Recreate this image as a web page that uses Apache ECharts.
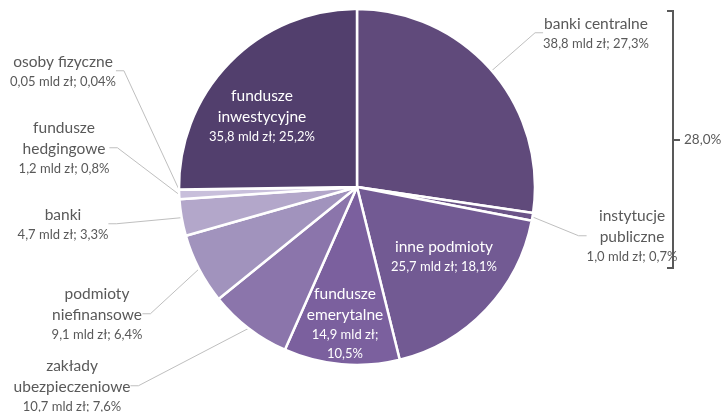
<!DOCTYPE html>
<html><head><meta charset="utf-8">
<script src="https://cdn.jsdelivr.net/npm/echarts@6/dist/echarts.min.js"></script>
<style>html,body{margin:0;padding:0;background:#fff}#c{width:724px;height:412px}</style>
</head><body><div id="c"></div>
<script>
// ---- data ----
const categories = ['banki centralne','instytucje publiczne','inne podmioty','fundusze emerytalne','zakłady ubezpieczeniowe','podmioty niefinansowe','banki','fundusze hedgingowe','osoby fizyczne','fundusze inwestycyjne'];
const valuesMld = [38.8, 1.0, 25.7, 14.9, 10.7, 9.1, 4.7, 1.2, 0.05, 35.8];
const valueText = ['38,8','1,0','25,7','14,9','10,7','9,1','4,7','1,2','0,05','35,8'];
const percentText = ['27,3%','0,7%','18,1%','10,5%','7,6%','6,4%','3,3%','0,8%','0,04%','25,2%'];
const bracketLabel = '28,0%';

// ---- presentation ----
const nameBreaks = {
  'instytucje publiczne':'instytucje\npubliczne',
  'fundusze emerytalne':'fundusze\nemerytalne',
  'zakłady ubezpieczeniowe':'zakłady\nubezpieczeniowe',
  'podmioty niefinansowe':'podmioty\nniefinansowe',
  'fundusze hedgingowe':'fundusze\nhedgingowe',
  'fundusze inwestycyjne':'fundusze\ninwestycyjne'
};
const colors = ['#604a7b','#6b5488','#725a93','#7b609e','#8b75ab','#a193bd','#b3a7ca','#c8bfdb','#d8d0e6','#523f6d'];
const inside = [false,false,true,true,false,false,false,false,false,true];
const labelPos = [[596,33],[632,236],[444,256],[345,323],[72,386],[97,314],[63,224],[64,148],[63,71],[262,116]];

const font = 'Lato, "Open Sans", sans-serif';
const chart = echarts.init(document.getElementById('c'));

const data = categories.map((c,i)=>{
  const nm = nameBreaks[c] || c;
  let val = valueText[i] + ' mld zł; ' + percentText[i];
  if (i === 3) val = valueText[i] + ' mld zł;\n' + percentText[i];
  const col = inside[i] ? '#ffffff' : '#595959';
  return {
    name: c, value: valuesMld[i],
    itemStyle: {color: colors[i]},
    label: {
      show: true,
      position: inside[i] ? 'inside' : 'outside',
      formatter: '{n|' + nm + '}\n{v|' + val + '}',
      rich: {
        n: {fontSize: 15.5, lineHeight: 21, color: col, fontFamily: font, align:'center'},
        v: {fontSize: 13, lineHeight: 19, color: col, fontFamily: font, align:'center'}
      }
    },
    labelLine: {show: !inside[i], length: 10, length2: 8, lineStyle: {color: '#bfbfbf', width: 1}}
  };
});

chart.setOption({
  backgroundColor: '#ffffff',
  animation: false,
  series: [{
    type: 'pie',
    center: [357, 187],
    radius: [0, 178],
    startAngle: 90,
    clockwise: true,
    avoidLabelOverlap: false,
    itemStyle: {borderColor: '#ffffff', borderWidth: 2.5},
    label: {fontFamily: font},
    labelLine: {smooth: false},
    labelLayout: function (p) {
      const pos = labelPos[p.dataIndex];
      return {x: pos[0], y: pos[1], align: 'center', verticalAlign: 'middle', moveOverlap: false};
    },
    data: data
  }],
  graphic: [
    {type: 'polyline', shape: {points: [[667,11],[673,11],[673,268],[667,268]]}, style: {stroke: '#595959', lineWidth: 2, fill: null}},
    {type: 'line', shape: {x1: 673, y1: 140, x2: 680, y2: 140}, style: {stroke: '#595959', lineWidth: 2}},
    {type: 'text', x: 684, y: 140, style: {text: bracketLabel, fill: '#595959', font: '13.5px ' + font, textVerticalAlign: 'middle'}}
  ]
});
</script>
</body></html>
